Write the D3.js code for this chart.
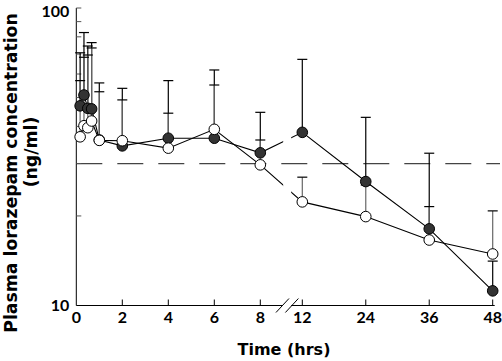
<!DOCTYPE html>
<html>
<head>
<meta charset="utf-8">
<script src="https://cdn.jsdelivr.net/npm/d3@7"></script>
<style>
  body { margin: 0; background: #fff; }
  text { font-family: Lato, "DejaVu Sans", sans-serif; font-weight: bold; fill: #000; }
  text.title { font-family: "DejaVu Sans", sans-serif; }
</style>
</head>
<body>
<div id="chart"></div>
<script>

// sampling times (hrs)
var times = [1/6, 1/3, 1/2, 2/3, 1, 2, 4, 6, 8, 12, 24, 36, 48];

// filled circles: mean and mean + SD (ng/ml)
var filledMean = [46.9, 51.0, 46.0, 45.8, 36.0, 34.4, 36.5, 36.5, 32.6, 38.2, 26.1, 18.1, 11.2];
var filledUpper = [70.7, 82.7, 74.5, 76.5, 56.0, 53.7, 57.0, 61.9, 44.6, 67.2, 42.9, 32.5, 14.1];

// open circles: mean and mean + SD (ng/ml)
var openMean = [36.9, 40.2, 39.6, 41.7, 35.9, 35.8, 33.8, 39.1, 29.7, 22.3, 19.9, 16.6, 14.9];
var openUpper = [57.0, 68.3, 69.5, 73.4, 52.3, 49.1, 44.3, 55.1, 36.0, 27.0, 25.4, 21.5, 20.8];

var xTicks = [0, 2, 4, 6, 8, 12, 24, 36, 48];
var yMinor = [20, 30, 40, 50, 60, 70, 80, 90];
var refLevel = 30;

var W = 502, H = 361;

var svg = d3.select("#chart")
    .append("svg")
    .attr("width", W)
    .attr("height", H);

// broken time axis: 0-8 h stretched, 12-48 h compressed
var x = d3.scaleLinear()
    .domain([0, 8, 12, 48])
    .range([76.3, 260.3, 302.3, 492.7]);

var y = d3.scaleLog()
    .domain([10, 100])
    .range([305.5, 8]);

var breakMid = x(8) + 0.64 * (x(12) - x(8));

// clip lines where the axis is broken
var defs = svg.append("defs");
var clip = defs.append("clipPath").attr("id", "brk");
clip.append("rect").attr("x", 0).attr("y", 0).attr("width", breakMid - 4).attr("height", H);
clip.append("rect").attr("x", breakMid + 4).attr("y", 0).attr("width", W - breakMid).attr("height", H);

// dashed reference line
svg.append("line")
    .attr("x1", x(0)).attr("x2", 500)
    .attr("y1", y(refLevel)).attr("y2", y(refLevel))
    .attr("stroke", "#444")
    .attr("stroke-width", 1.2)
    .attr("stroke-dasharray", "26,15");

// Y axis
svg.append("line")
    .attr("x1", x(0)).attr("x2", x(0))
    .attr("y1", y(100)).attr("y2", y(10))
    .attr("stroke", "#000");

svg.selectAll(".ytick")
    .data(yMinor.concat([100]))
    .enter()
    .append("line")
    .attr("class", "ytick")
    .attr("x1", x(0)).attr("x2", x(0) + 5)
    .attr("y1", function(d) { return y(d); })
    .attr("y2", function(d) { return y(d); })
    .attr("stroke", "#555");

svg.selectAll(".ylab")
    .data([10, 100])
    .enter()
    .append("text")
    .attr("class", "ylab")
    .attr("x", x(0) - 7)
    .attr("y", function(d) { return Math.max(y(d), 11); })
    .attr("dy", "0.35em")
    .attr("text-anchor", "end")
    .style("font-size", "16px")
    .text(function(d) { return d; });

// X axis, broken between 8 and 12
var axisY = y(10);
svg.append("line")
    .attr("x1", x(0)).attr("x2", breakMid - 5)
    .attr("y1", axisY).attr("y2", axisY)
    .attr("stroke", "#000");
svg.append("line")
    .attr("x1", breakMid + 4).attr("x2", x(48) + 2)
    .attr("y1", axisY).attr("y2", axisY)
    .attr("stroke", "#000");

[-4.7, 4.7].forEach(function(o) {
    svg.append("line")
        .attr("x1", breakMid + o - 6.5).attr("x2", breakMid + o + 6.5)
        .attr("y1", axisY + 7).attr("y2", axisY - 7)
        .attr("stroke", "#000");
});

svg.selectAll(".xtick")
    .data(xTicks.slice(1))
    .enter()
    .append("line")
    .attr("class", "xtick")
    .attr("x1", function(d) { return x(d); })
    .attr("x2", function(d) { return x(d); })
    .attr("y1", axisY).attr("y2", axisY - 6)
    .attr("stroke", "#000");

svg.selectAll(".xlab")
    .data(xTicks)
    .enter()
    .append("text")
    .attr("class", "xlab")
    .attr("x", function(d) { return x(d); })
    .attr("y", 323)
    .attr("text-anchor", "middle")
    .style("font-size", "16px")
    .text(function(d) { return d; });

// axis titles
svg.append("text")
    .attr("class", "title")
    .attr("x", 284)
    .attr("y", 355)
    .attr("text-anchor", "middle")
    .style("font-size", "16px")
    .text("Time (hrs)");

svg.append("text")
    .attr("class", "title")
    .attr("transform", "translate(17,173) rotate(-90)")
    .attr("text-anchor", "middle")
    .style("font-size", "17.3px")
    .text("Plasma lorazepam concentration");

svg.append("text")
    .attr("class", "title")
    .attr("transform", "translate(37,152) rotate(-90)")
    .attr("text-anchor", "middle")
    .style("font-size", "17.3px")
    .text("(ng/ml)");

// one function per series: line and error bars
function drawSeries(mean, upper, barColor) {
    var pts = times.map(function(t, i) { return { t: t, m: mean[i], u: upper[i] }; });

    var line = d3.line()
        .x(function(d) { return x(d.t); })
        .y(function(d) { return y(d.m); });

    svg.append("path")
        .datum(pts)
        .attr("d", line)
        .attr("fill", "none")
        .attr("stroke", "#000")
        .attr("stroke-width", 1.1)
        .attr("clip-path", "url(#brk)");

    var g = svg.append("g");
    g.selectAll(".bar")
        .data(pts)
        .enter()
        .append("line")
        .attr("x1", function(d) { return x(d.t); })
        .attr("x2", function(d) { return x(d.t); })
        .attr("y1", function(d) { return y(d.m); })
        .attr("y2", function(d) { return y(d.u); })
        .attr("stroke", barColor)
        .attr("stroke-width", 1.2);
    g.selectAll(".cap")
        .data(pts)
        .enter()
        .append("line")
        .attr("x1", function(d) { return x(d.t) - 5; })
        .attr("x2", function(d) { return x(d.t) + 5; })
        .attr("y1", function(d) { return y(d.u); })
        .attr("y2", function(d) { return y(d.u); })
        .attr("stroke", "#000")
        .attr("stroke-width", 1.2);

    return pts;
}

var filledPts = drawSeries(filledMean, filledUpper, "#000");
var openPts = drawSeries(openMean, openUpper, "#666");

// markers last so they sit on top of lines and bars
svg.selectAll(".fdot")
    .data(filledPts)
    .enter()
    .append("circle")
    .attr("cx", function(d) { return x(d.t); })
    .attr("cy", function(d) { return y(d.m); })
    .attr("r", 5.3)
    .attr("fill", "#333")
    .attr("stroke", "#000");

svg.selectAll(".odot")
    .data(openPts)
    .enter()
    .append("circle")
    .attr("cx", function(d) { return x(d.t); })
    .attr("cy", function(d) { return y(d.m); })
    .attr("r", 5.3)
    .attr("fill", "#fff")
    .attr("stroke", "#000");

</script>
</body>
</html>
